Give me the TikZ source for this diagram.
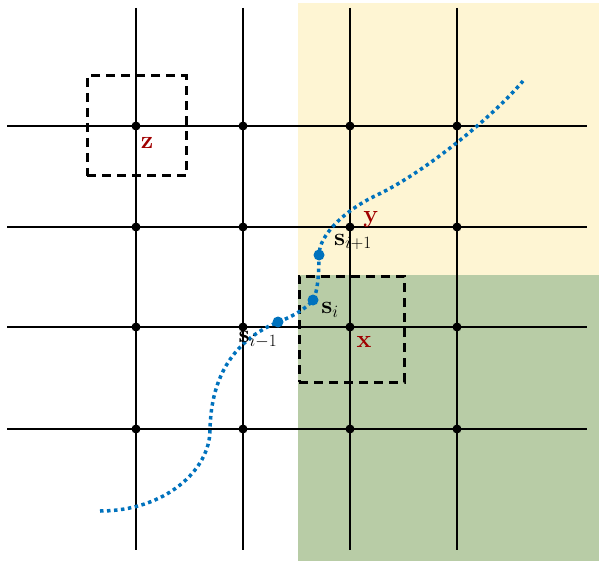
\documentclass[tikz,border=0pt]{standalone}
\usepackage{amsmath}
\definecolor{yel}{HTML}{FEF5D3}
\definecolor{grn}{HTML}{B8CCA6}
\definecolor{cblue}{HTML}{0072BD}
\definecolor{dred}{HTML}{A00000}
\tikzset{
  gline/.style={line width=1.2pt, black},
  gdot/.style={circle, fill=black, inner sep=0pt, minimum size=9pt},
  bdot/.style={circle, fill=cblue, inner sep=0pt, minimum size=11pt},
  dbox/.style={draw=black, line width=3pt, dash pattern=on 9pt off 6pt, inner sep=0pt},
  curvestyle/.style={cblue, line width=3.5pt, dash pattern=on 3.5pt off 3.5pt},
  redlbl/.style={text=dred, font=\fontsize{25}{29}\selectfont},
  slbl/.style={font=\fontsize{26}{30}\selectfont, inner sep=0pt}
}
\begin{document}
\begin{tikzpicture}[x=1pt,y=-1pt]
\useasboundingbox (0,0) rectangle (599,561);
\fill[yel] (298,3) rectangle (599,275);
\fill[grn] (298,275) rectangle (599,561);
\foreach \i/\x in {1/136,2/243,3/350,4/457}{
  \coordinate (vt\i) at (\x,8);
  \coordinate (vb\i) at (\x,550);
  \draw[gline] (vt\i) -- (vb\i);
}
\foreach \j/\y in {1/126,2/227,3/327,4/429}{
  \coordinate (hl\j) at (7,\y);
  \coordinate (hr\j) at (587,\y);
  \draw[gline] (hl\j) -- (hr\j);
}
\foreach \i/\x in {1/136,2/243,3/350,4/457}{
  \foreach \j/\y in {1/126,2/227,3/327,4/429}{
    \node[gdot] (g\i\j) at (\x,\y) {};
  }
}
\node[dbox, minimum width=99pt, minimum height=100pt] (zbox) at (136.5,126) {};
\node[dbox, minimum width=105pt, minimum height=106pt] (xbox) at (351.5,329) {};
\coordinate (cstart) at (100,511);
\coordinate (cend) at (523,81);
\draw[curvestyle] (cstart)
  .. controls (165,511) and (210,470) .. (210,430)
  .. controls (211,375) and (235,340) .. (278,322)
  .. controls (292,317) and (307,308) .. (313,300)
  .. controls (318,292) and (319,270) .. (319,255)
  .. controls (319,235) and (345,210) .. (377,195)
  .. controls (420,175) and (490,120) .. (cend);
\node[bdot] (sm) at (278,322) {};
\node[bdot] (s0) at (313,300) {};
\node[bdot] (sp) at (319,255) {};
\node[redlbl] (zl) at (147,143) {$\mathbf{z}$};
\node[redlbl] (yl) at (371,219) {$\mathbf{y}$};
\node[redlbl] (xl) at (364,342) {$\mathbf{x}$};
\node[slbl] (spl) at (353,242) {$\mathbf{s}_{i+1}$};
\node[slbl] (s0l) at (330,310) {$\mathbf{s}_{i}$};
\node[slbl] (sml) at (258,340) {$\mathbf{s}_{i-1}$};
\end{tikzpicture}
\end{document}
